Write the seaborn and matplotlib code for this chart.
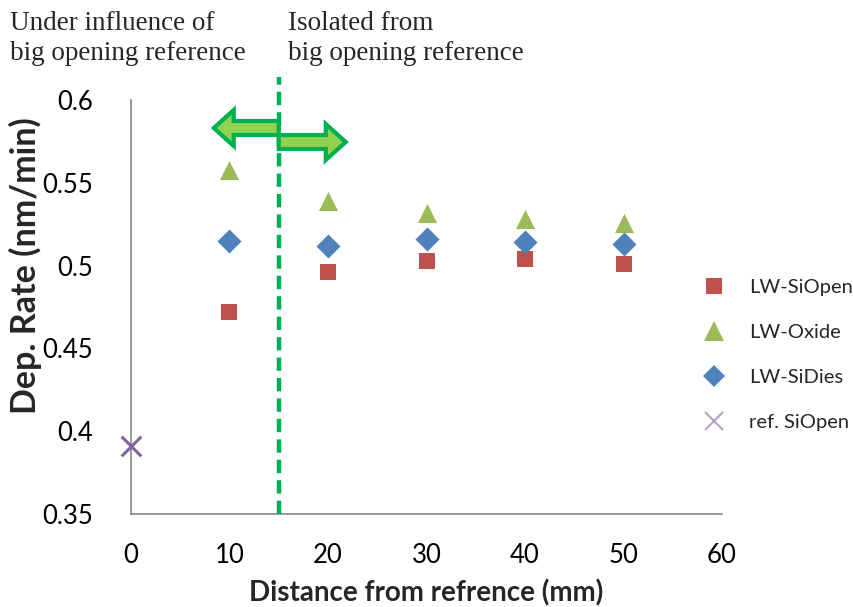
import matplotlib
matplotlib.use("Agg")
import matplotlib.pyplot as plt
import matplotlib.transforms as mtransforms
import matplotlib.patches as mpatches
from matplotlib.lines import Line2D
import seaborn as sns
import pandas as pd

# ---- data ----
distance = [10, 20, 30, 40, 50]
si_open = [0.472, 0.496, 0.503, 0.504, 0.501]
oxide = [0.558, 0.539, 0.532, 0.528, 0.526]
si_dies = [0.515, 0.512, 0.516, 0.514, 0.513]
ref_distance = [0]
ref_si_open = [0.391]
series_names = ["LW-SiOpen", "LW-Oxide", "LW-SiDies", "ref. SiOpen"]
x_ticks = [0, 10, 20, 30, 40, 50, 60]
y_ticks = [0.35, 0.4, 0.45, 0.5, 0.55, 0.6]
y_tick_labels = ["0.35", "0.4", "0.45", "0.5", "0.55", "0.6"]
boundary = 15

rows = []
for name, xs, ys in [(series_names[0], distance, si_open),
                     (series_names[1], distance, oxide),
                     (series_names[2], distance, si_dies),
                     (series_names[3], ref_distance, ref_si_open)]:
    for x, y in zip(xs, ys):
        rows.append({"Distance": x, "Rate": y, "Series": name})
df = pd.DataFrame(rows)

colors = {"LW-SiOpen": "#C0504D", "LW-Oxide": "#9BBB59",
          "LW-SiDies": "#4F81BD", "ref. SiOpen": "#8064A2"}
markers = {"LW-SiOpen": "s", "LW-Oxide": "^", "LW-SiDies": "D", "ref. SiOpen": "x"}
sizes = {"LW-SiOpen": 125, "LW-Oxide": 190, "LW-SiDies": 150, "ref. SiOpen": 200}

sns.set_style("white")
plt.rcParams["font.family"] = ["Lato", "DejaVu Sans"]

fig = plt.figure(figsize=(8.54, 6.07), dpi=100)
ax = fig.add_axes([131 / 854, 1 - 514 / 607, (722 - 131) / 854, (514 - 100) / 607])

for name in series_names:
    sub = df[df["Series"] == name]
    kw = dict(linewidth=0) if markers[name] != "x" else dict(linewidth=2.2)
    sns.scatterplot(data=sub, x="Distance", y="Rate", ax=ax, color=colors[name],
                    marker=markers[name], s=sizes[name], legend=False,
                    clip_on=False, zorder=4, **kw)

ax.set_xlim(0, 60)
ax.set_ylim(0.35, 0.6)
ax.set_xticks(x_ticks)
ax.set_yticks(y_ticks)
ax.set_yticklabels(y_tick_labels)
ax.tick_params(axis="x", direction="out", length=9, width=1.2, color="#868686",
               labelsize=18.5, pad=12, labelcolor="black")
ax.tick_params(axis="y", length=0, labelsize=18.5, pad=27, labelcolor="black")
for side in ["top", "right"]:
    ax.spines[side].set_visible(False)
for side in ["left", "bottom"]:
    ax.spines[side].set_color("#868686")
    ax.spines[side].set_linewidth(1.2)
ax.set_xlabel("Distance from refrence (mm)", fontsize=20, fontweight="bold", labelpad=8)
ax.set_ylabel("Dep. Rate (nm/min)", fontsize=24.5, fontweight="bold")
ax.yaxis.set_label_coords(-(131 - 42) / 591, (514 - 266) / 414)

# dashed boundary line extending above the axes
trans = mtransforms.blended_transform_factory(ax.transData, ax.transAxes)
ax.add_line(Line2D([boundary, boundary], [0, (514 - 77) / 414], transform=trans,
                   color="#00B050", linewidth=3.2, linestyle=(0, (3, 1.6)),
                   clip_on=False, zorder=5))

# double arrows in pixel coords
pix = mtransforms.IdentityTransform()
xb = ax.transData.transform((boundary, 0.5))[0]
for dx, yc in [(-65, 607 - 128), (67, 607 - 142)]:
    arr = mpatches.FancyArrow(xb, yc, dx, 0, width=14, head_width=36, head_length=20,
                              length_includes_head=True, facecolor="#92D050",
                              edgecolor="#00B050", linewidth=3, transform=pix,
                              zorder=6)
    fig.add_artist(arr)

# annotations
fig.text(10 / 854, 1 - 11 / 607, "Under influence of\nbig opening reference",
         fontsize=19.5, family="Liberation Serif", va="top", ha="left", linespacing=1.25)
fig.text(288 / 854, 1 - 11 / 607, "Isolated from\nbig opening reference",
         fontsize=19.5, family="Liberation Serif", va="top", ha="left", linespacing=1.25)

# legend
legend_colors = {"LW-SiOpen": "#C0504D", "LW-Oxide": "#9BBB59",
                 "LW-SiDies": "#4F81BD", "ref. SiOpen": "#B3A2C7"}
handles = []
for name in series_names:
    if markers[name] == "x":
        h = Line2D([], [], marker="x", linestyle="none", color=legend_colors[name],
                   markersize=13, markeredgewidth=1.5)
    else:
        h = Line2D([], [], marker=markers[name], linestyle="none",
                   markerfacecolor=legend_colors[name], markeredgewidth=0,
                   markersize={"s": 12, "^": 15, "D": 11}[markers[name]])
    handles.append(h)
fig.legend(handles, series_names, loc="upper left", bbox_to_anchor=(695 / 854, 1 - 271 / 607),
           frameon=False, fontsize=14.5, handletextpad=1.2, labelspacing=1.38,
           handlelength=1.1, borderaxespad=0)

fig.savefig("out.png", dpi=100)
